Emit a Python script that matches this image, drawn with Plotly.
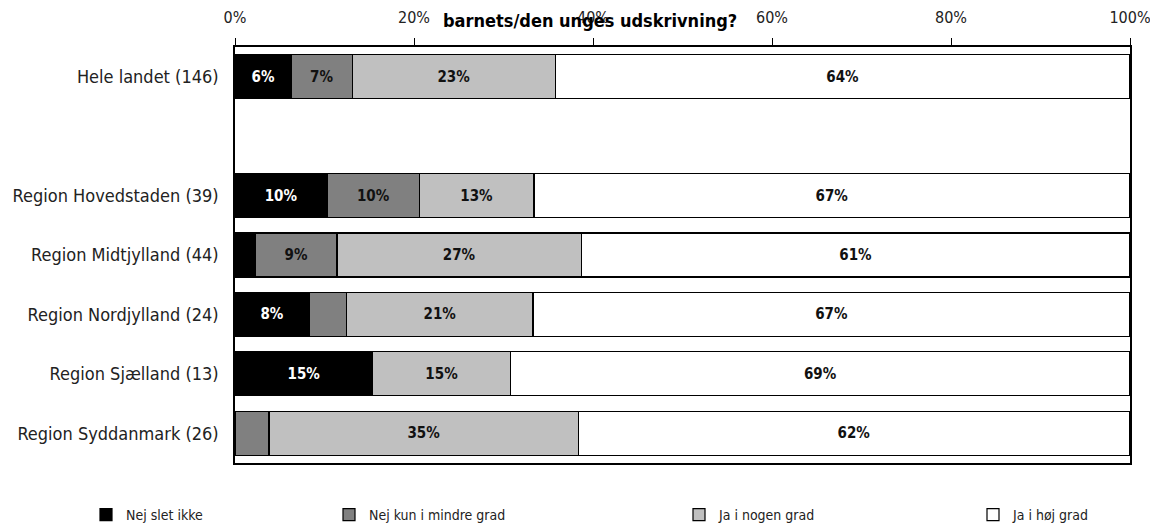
import plotly.graph_objects as go

categories = ["Hele landet (146)", " ", "Region Hovedstaden (39)", "Region Midtjylland (44)",
              "Region Nordjylland (24)", "Region Sjælland (13)", "Region Syddanmark (26)"]
series_names = ["Nej slet ikke", "Nej kun i mindre grad", "Ja i nogen grad", "Ja i høj grad"]
nej_slet_ikke = [6.3, None, 10.3, 2.3, 8.3, 15.4, 0.0]
nej_kun_mindre = [6.8, None, 10.3, 9.1, 4.2, 0.0, 3.8]
ja_nogen = [22.7, None, 12.8, 27.3, 20.8, 15.4, 34.6]
ja_hoej = [64.2, None, 66.6, 61.3, 66.7, 69.2, 61.5]
tick_vals = [0, 20, 40, 60, 80, 100]
tick_text = ["0%", "20%", "40%", "60%", "80%", "100%"]

# page has an 8px body margin, so the figure is drawn 8px smaller and offset
OFF = 8
W, H = 1158 - OFF, 528 - OFF
ML, MR, MT, MB = 235 - OFF, 28, 47 - OFF, 65
colors = ["#000000", "#808080", "#c0c0c0", "#ffffff"]
text_colors = ["#ffffff", "#111111", "#111111", "#111111"]
legend_ids = ["legend", "legend2", "legend3", "legend4"]
legend_text_start_px = [126, 369, 719, 1013]
FONT = "DejaVu Sans Condensed, Liberation Sans Narrow, Roboto, sans-serif"

fig = go.Figure()
for name, vals, col, tcol, lg in zip(series_names, [nej_slet_ikke, nej_kun_mindre, ja_nogen, ja_hoej],
                                     colors, text_colors, legend_ids):
    labels = [("" if (v is None or v < 5) else f"{round(v)}%") for v in vals]
    fig.add_trace(go.Bar(
        y=categories, x=vals, name=name, orientation="h", legend=lg,
        marker=dict(color=col, line=dict(color="#000000", width=1.2)),
        text=labels, textposition="inside", insidetextanchor="middle", textangle=0,
        textfont=dict(family=FONT, size=15, color=tcol, weight="bold"),
        constraintext="none",
    ))

layout_legends = {}
for lg, tp in zip(legend_ids, legend_text_start_px):
    layout_legends[lg] = dict(orientation="h", xref="container", yref="container",
                              x=(tp - 40 - OFF) / W, y=1 - (515 - OFF) / H, yanchor="middle",
                              xanchor="left", itemwidth=30,
                              font=dict(family=FONT, size=14, color="#222222"), bgcolor="rgba(0,0,0,0)")

fig.update_layout(
    barmode="stack", bargap=0.26,
    width=W, height=H,
    margin=dict(l=ML, r=MR, t=MT, b=MB, autoexpand=False),
    paper_bgcolor="white", plot_bgcolor="white",
    font=dict(family=FONT, size=18, color="#222222"),
    showlegend=True,
    xaxis=dict(side="top", range=[0, 100], tickvals=tick_vals, ticktext=tick_text, automargin=False,
               showgrid=False, zeroline=False, showline=True, linecolor="#000000", linewidth=1.5,
               mirror=True, ticks="outside", ticklen=7, tickcolor="#000000", tickwidth=1,
               ticklabelstandoff=9, tickfont=dict(size=16, color="#222222")),
    yaxis=dict(autorange="reversed", showgrid=False, showline=True, linecolor="#000000", automargin=False,
               linewidth=1.5, mirror=True, ticks="", ticklabelstandoff=11,
               tickfont=dict(size=18, color="#222222")),
    **layout_legends,
)
plot_h = H - MT - MB
plot_w = W - ML - MR
fig.add_annotation(text="<b>barnets/den unges udskrivning?</b>", xref="paper", yref="paper",
                   x=(590 - OFF - ML) / plot_w, y=1 + MT / plot_h, yanchor="top", showarrow=False,
                   font=dict(family=FONT, size=18, color="#000000"))
fig.write_html("out.html")
